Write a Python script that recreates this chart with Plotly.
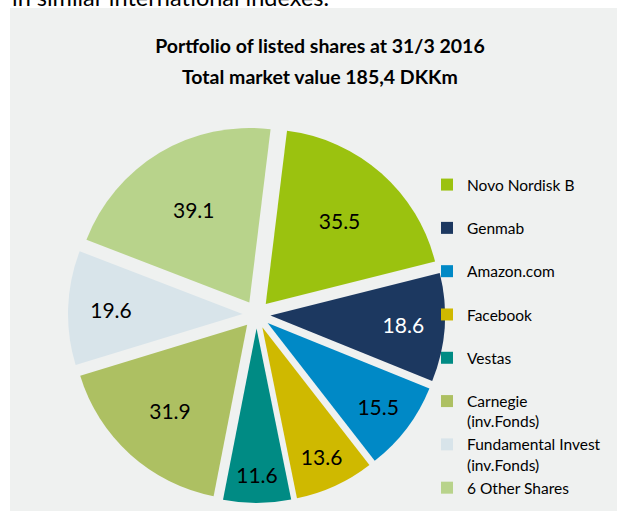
import plotly.graph_objects as go

W, H = 617, 511

# data
labels = ["Novo Nordisk B", "Genmab", "Amazon.com", "Facebook", "Vestas",
          "Carnegie<br>(inv.Fonds)", "Fundamental Invest<br>(inv.Fonds)", "6 Other Shares"]
values = [35.5, 18.6, 15.5, 13.6, 11.6, 31.9, 19.6, 39.1]
colors = ["#9bc20f", "#1c3860", "#0089c6", "#cfb900", "#008b84",
          "#adc062", "#d8e4ea", "#b8d38b"]
text_colors = ["black", "white", "black", "black", "black", "black", "black", "black"]

title_line1 = "Portfolio of listed shares at 31/3 2016"
title_line2 = "Total market value 185,4 DKKm"
cut_text = "in similar international indexes."

# pad one-line legend entries to two lines so every entry has the same height
legend_labels = [l if "<br>" in l else l + "<br> " for l in labels]

panel = "#eff1f0"
font = "Lato, 'Open Sans', sans-serif"


def px_x(sx):
    return sx / W


def px_y(sy):
    return 1 - sy / H


fig = go.Figure()

fig.add_trace(go.Pie(
    labels=legend_labels,
    values=values,
    sort=False,
    direction="clockwise",
    rotation=7,
    pull=0.08,
    marker=dict(colors=colors, line=dict(width=0)),
    textinfo="value",
    texttemplate="%{value:.1f}",
    textposition="inside",
    insidetextorientation="horizontal",
    textfont=dict(family=font, size=21, color=text_colors),
    domain=dict(x=[px_x(68), px_x(445)], y=[px_y(503), px_y(126)]),
    hoverinfo="label+value",
))

fig.update_layout(
    width=W,
    height=H,
    margin=dict(l=0, r=0, t=0, b=0, autoexpand=False),
    paper_bgcolor=panel,
    plot_bgcolor=panel,
    font=dict(family=font, color="black"),
    title=dict(
        text="<b>" + title_line1 + "</b>",
        x=px_x(320), xanchor="center",
        y=px_y(46), yanchor="middle", yref="container",
        font=dict(family=font, size=19.5, color="black"),
    ),
    legend=dict(
        x=px_x(427), xanchor="left",
        y=px_y(168), yanchor="top",
        valign="top",
        bgcolor="rgba(0,0,0,0)",
        font=dict(family=font, size=15.5, color="black"),
        traceorder="normal",
    ),
    showlegend=True,
)

# second title line
fig.add_annotation(
    text="<b>" + title_line2 + "</b>",
    x=px_x(320), xref="paper", xanchor="center",
    y=px_y(76), yref="paper", yanchor="middle",
    showarrow=False,
    font=dict(family=font, size=19.5, color="black"),
)

# white page around the grey chart panel
fig.add_shape(type="rect", xref="paper", yref="paper",
              x0=0, x1=1, y0=px_y(8), y1=1,
              fillcolor="white", line=dict(width=0), layer="below")
fig.add_shape(type="rect", xref="paper", yref="paper",
              x0=0, x1=px_x(10), y0=0, y1=1,
              fillcolor="white", line=dict(width=0), layer="below")

# body text of the page, cut off at the top
fig.add_annotation(
    text=cut_text,
    x=px_x(10), xref="paper", xanchor="left",
    y=1, yref="paper", yanchor="bottom", yshift=-13,
    showarrow=False,
    font=dict(family=font, size=23.5, color="black"),
)

# drop the default page margin so the figure fills the window
fig.write_html(
    "out.html",
    config={"displayModeBar": False},
    post_script=("document.body.style.margin='0';"
                 "document.body.style.overflow='hidden';"
                 "document.documentElement.style.overflow='hidden';"),
)
